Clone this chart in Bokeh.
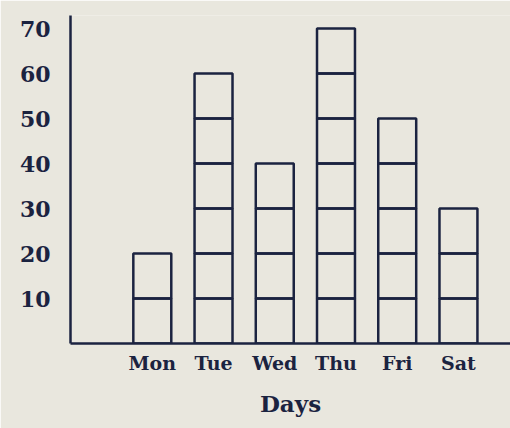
from bokeh.plotting import figure
from bokeh.models import Range1d, FixedTicker, Title, ColumnDataSource
from bokeh.embed import file_html
from bokeh.resources import INLINE

days = ["Mon", "Tue", "Wed", "Thu", "Fri", "Sat"]
values = [20, 60, 40, 70, 50, 30]
unit = 10
y_ticks = [10, 20, 30, 40, 50, 60, 70]

BG = "#e9e7de"
INK = "#1b2340"
FONT = "DejaVu Serif"

# one box per unit of 10 in each bar
bx, bb, bt = [], [], []
for i, v in enumerate(values):
    for k in range(0, v, unit):
        bx.append(i)
        bb.append(k)
        bt.append(k + unit)
src = ColumnDataSource(dict(x=bx, bottom=bb, top=bt))

p = figure(width=510, height=428, output_backend="svg", toolbar_location=None,
           x_range=Range1d(-1.336, 5.85), y_range=Range1d(0, 72.9),
           min_border_left=70, min_border_top=15, min_border_bottom=85, min_border_right=0)
p.background_fill_color = BG
p.border_fill_color = BG
p.outline_line_color = None
p.xgrid.visible = False
p.ygrid.visible = False

p.vbar(x="x", bottom="bottom", top="top", width=0.62, source=src,
       fill_color=None, line_color=INK, line_width=2.5)

p.yaxis.ticker = FixedTicker(ticks=y_ticks)
p.xaxis.ticker = FixedTicker(ticks=list(range(len(days))))
p.xaxis.major_label_overrides = {i: d for i, d in enumerate(days)}

for ax in (p.xaxis, p.yaxis):
    ax.axis_line_color = INK
    ax.axis_line_width = 2.5
    ax.major_tick_line_color = None
    ax.minor_tick_line_color = None
    ax.major_label_text_color = INK
    ax.major_label_text_font = FONT
    ax.major_label_text_font_style = "bold"

p.yaxis.major_label_text_font_size = "22px"
p.yaxis.major_label_standoff = 14
p.xaxis.major_label_text_font_size = "19px"
p.xaxis.major_label_standoff = 2

p.add_layout(Title(text="Days", align="center", offset=36, text_font=FONT,
                   text_font_style="bold", text_font_size="23px", text_color=INK,
                   standoff=22), "below")

open("out.html", "w").write(file_html(p, INLINE))
